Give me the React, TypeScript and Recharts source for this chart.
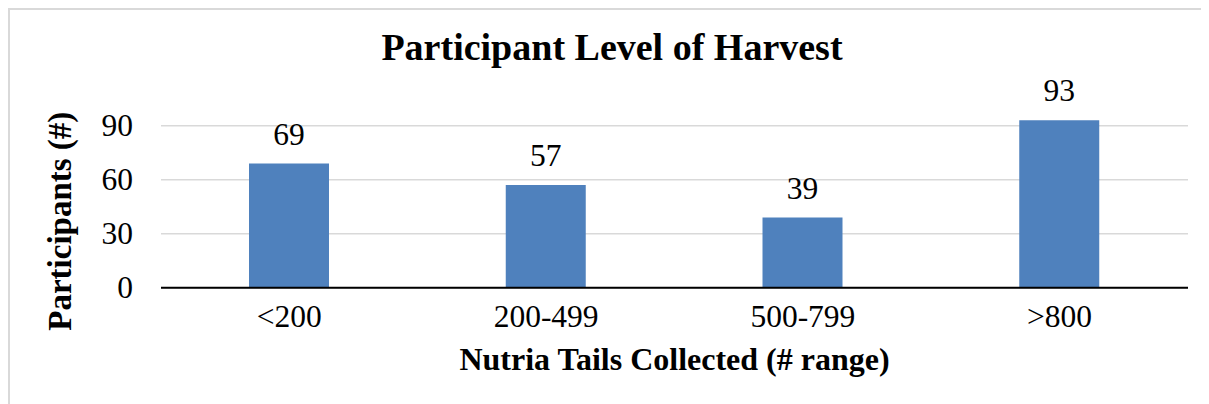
import React from "react";
import { BarChart, Bar, XAxis, YAxis, CartesianGrid, LabelList, Label } from "recharts";

const categories = ["<200", "200-499", "500-799", ">800"];
const participants = [69, 57, 39, 93];
const yTicks = [0, 30, 60, 90];

const data = categories.map((c, i) => ({ range: c, value: participants[i] }));

const FONT = "Liberation Serif, Times New Roman, serif";
const TICK_SIZE = 31.5;

const XTick = (props: any) => {
  const { x, y, payload } = props;
  return (
    <text x={x} y={y} dy="0.71em" textAnchor="middle" fontFamily={FONT} fontSize={TICK_SIZE} fill="#000">
      {payload.value}
    </text>
  );
};

const YTick = (props: any) => {
  const { x, y, payload } = props;
  return (
    <text x={x} y={y} dy="0.34em" textAnchor="end" fontFamily={FONT} fontSize={TICK_SIZE} fill="#000">
      {payload.value}
    </text>
  );
};

const ValueLabel = (props: any) => {
  const { x, y, width, value } = props;
  return (
    <text x={Number(x) + Number(width) / 2} y={Number(y) - 19} textAnchor="middle" fontFamily={FONT} fontSize={TICK_SIZE} fill="#000">
      {value}
    </text>
  );
};

const YTitle = (props: any) => {
  const vb = props.viewBox || {};
  const cx = 63.5;
  const cy = vb.y + vb.height / 2 + 23.5;
  return (
    <text
      x={cx}
      y={cy}
      transform={`rotate(-90, ${cx}, ${cy})`}
      textAnchor="middle"
      fontFamily={FONT}
      fontWeight="bold"
      fontSize={33}
      fill="#000"
    >
      Participants (#)
    </text>
  );
};

const XTitle = (props: any) => {
  const vb = props.viewBox || {};
  const cx = vb.x + vb.width / 2;
  return (
    <text x={cx} y={362} textAnchor="middle" fontFamily={FONT} fontWeight="bold" fontSize={32} fill="#000">
      Nutria Tails Collected (# range)
    </text>
  );
};

export default function App() {
  return (
    <div
      style={{
        position: "relative",
        width: 1201,
        height: 396,
        boxSizing: "border-box",
        borderTop: "2px solid #d9d9d9",
        borderLeft: "2px solid #d9d9d9",
        fontFamily: FONT,
      }}
    >
      <svg
        width={1201}
        height={80}
        style={{ position: "absolute", left: -2, top: -2, pointerEvents: "none" }}
      >
        <text x={604} y={51.5} textAnchor="middle" fontFamily={FONT} fontWeight="bold" fontSize={38} fill="#000">
          Participant Level of Harvest
        </text>
      </svg>
      <div style={{ position: "absolute", left: -2, top: -2 }}>
        <BarChart
          width={1201}
          height={396}
          data={data}
          margin={{ top: 99.7, right: 21, bottom: 0, left: 0 }}
          barSize={80}
        >
          <CartesianGrid vertical={false} horizontalValues={yTicks} stroke="#d9d9d9" strokeWidth={1.5} />
          <XAxis
            dataKey="range"
            height={116.3}
            tickLine={false}
            tickSize={0}
            tickMargin={17}
            axisLine={{ stroke: "#000", strokeWidth: 2 }}
            tick={<XTick />}
          >
            <Label content={<XTitle />} />
          </XAxis>
          <YAxis
            domain={[0, 100]}
            ticks={yTicks}
            width={153}
            tickLine={false}
            axisLine={false}
            tickSize={0}
            tickMargin={28}
            tick={<YTick />}
          >
            <Label content={<YTitle />} />
          </YAxis>
          <Bar dataKey="value" fill="#4f81bd" isAnimationActive={false}>
            <LabelList dataKey="value" content={<ValueLabel />} />
          </Bar>
        </BarChart>
      </div>
    </div>
  );
}
